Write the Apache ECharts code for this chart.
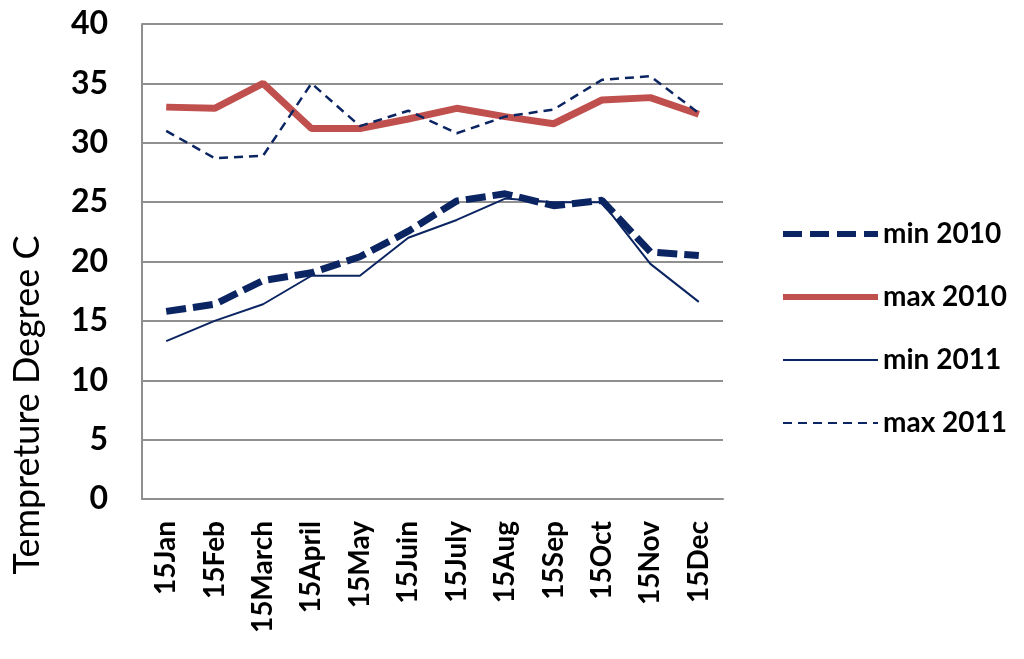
<!DOCTYPE html>
<html>
<head>
<meta charset="utf-8">
<script src="https://cdn.jsdelivr.net/npm/echarts@6/dist/echarts.min.js"></script>
<style>
  html, body { margin: 0; padding: 0; background: #fff; }
  #chart { width: 1024px; height: 659px; }
</style>
</head>
<body>
<div id="chart"></div>
<script>
var categories = ['15Jan', '15Feb', '15March', '15April', '15May', '15Juin', '15July', '15Aug', '15Sep', '15Oct', '15Nov', '15Dec'];
var min2010 = [15.8, 16.4, 18.4, 19.05, 20.4, 22.55, 25.1, 25.7, 24.7, 25.15, 20.8, 20.5];
var max2010 = [33.0, 32.9, 35.0, 31.2, 31.2, 32.0, 32.9, 32.2, 31.6, 33.6, 33.8, 32.4];
var min2011 = [13.3, 15.0, 16.4, 18.8, 18.8, 22.0, 23.5, 25.3, 25.0, 25.0, 19.8, 16.6];
var max2011 = [31.0, 28.7, 28.9, 35.0, 31.4, 32.7, 30.8, 32.2, 32.8, 35.3, 35.6, 32.5];
var seriesNames = ['min 2010', 'max 2010', 'min 2011', 'max 2011'];

var navy = '#0b2462';
var red = '#c0504d';
var grey = '#8f8f8f';
var font = 'Lato';

var myChart = echarts.init(document.getElementById('chart'));
myChart.setOption({
  animation: false,
  grid: { left: 142, right: 301, top: 24, bottom: 160 },
  legend: {
    // 图例只画线，不画点
    data: [
      { name: seriesNames[0], itemStyle: { opacity: 0 }, lineStyle: { width: 6, type: [19, 8] } },
      { name: seriesNames[1], itemStyle: { opacity: 0 }, lineStyle: { width: 6 } },
      { name: seriesNames[2], itemStyle: { opacity: 0 }, lineStyle: { width: 2 } },
      { name: seriesNames[3], itemStyle: { opacity: 0 }, lineStyle: { width: 2, type: [9, 6] } }
    ],
    orient: 'vertical',
    left: 775,
    top: 215,
    itemWidth: 95,
    itemHeight: 14,
    itemGap: 35,
    textStyle: { fontFamily: font, fontWeight: 'bold', fontSize: 28, color: '#000' }
  },
  graphic: [{
    type: 'text',
    x: 27,
    y: 405,
    rotation: Math.PI / 2,
    style: {
      text: 'Tempreture Degree C',
      fontFamily: font,
      fontSize: 36,
      fill: '#000',
      textAlign: 'center',
      textVerticalAlign: 'middle'
    }
  }],
  xAxis: {
    type: 'category',
    data: categories,
    boundaryGap: true,
    axisLine: { lineStyle: { color: grey, width: 2 } },
    axisTick: { show: false },
    axisLabel: {
      rotate: 90,
      margin: 22,
      interval: 0,
      fontFamily: font,
      fontWeight: 'bold',
      fontSize: 28,
      color: '#000'
    }
  },
  yAxis: {
    type: 'value',
    min: 0,
    max: 40,
    interval: 5,
    axisLine: { show: true, lineStyle: { color: grey, width: 2 } },
    axisTick: { show: false },
    splitLine: { lineStyle: { color: grey, width: 2 } },
    axisLabel: {
      margin: 34,
      fontFamily: font,
      fontWeight: 'bold',
      fontSize: 32,
      color: '#000'
    }
  },
  series: [
    {
      name: 'max 2010',
      type: 'line',
      data: max2010,
      symbol: 'none',
      lineStyle: { color: red, width: 7 },
      itemStyle: { color: red }
    },
    {
      name: 'min 2010',
      type: 'line',
      data: min2010,
      symbol: 'none',
      lineStyle: { color: navy, width: 7, type: [20, 7] },
      itemStyle: { color: navy }
    },
    {
      name: 'min 2011',
      type: 'line',
      data: min2011,
      symbol: 'none',
      lineStyle: { color: navy, width: 2 },
      itemStyle: { color: navy }
    },
    {
      name: 'max 2011',
      type: 'line',
      data: max2011,
      symbol: 'none',
      lineStyle: { color: navy, width: 2.5, type: [9, 6] },
      itemStyle: { color: navy }
    }
  ]
});
</script>
</body>
</html>
